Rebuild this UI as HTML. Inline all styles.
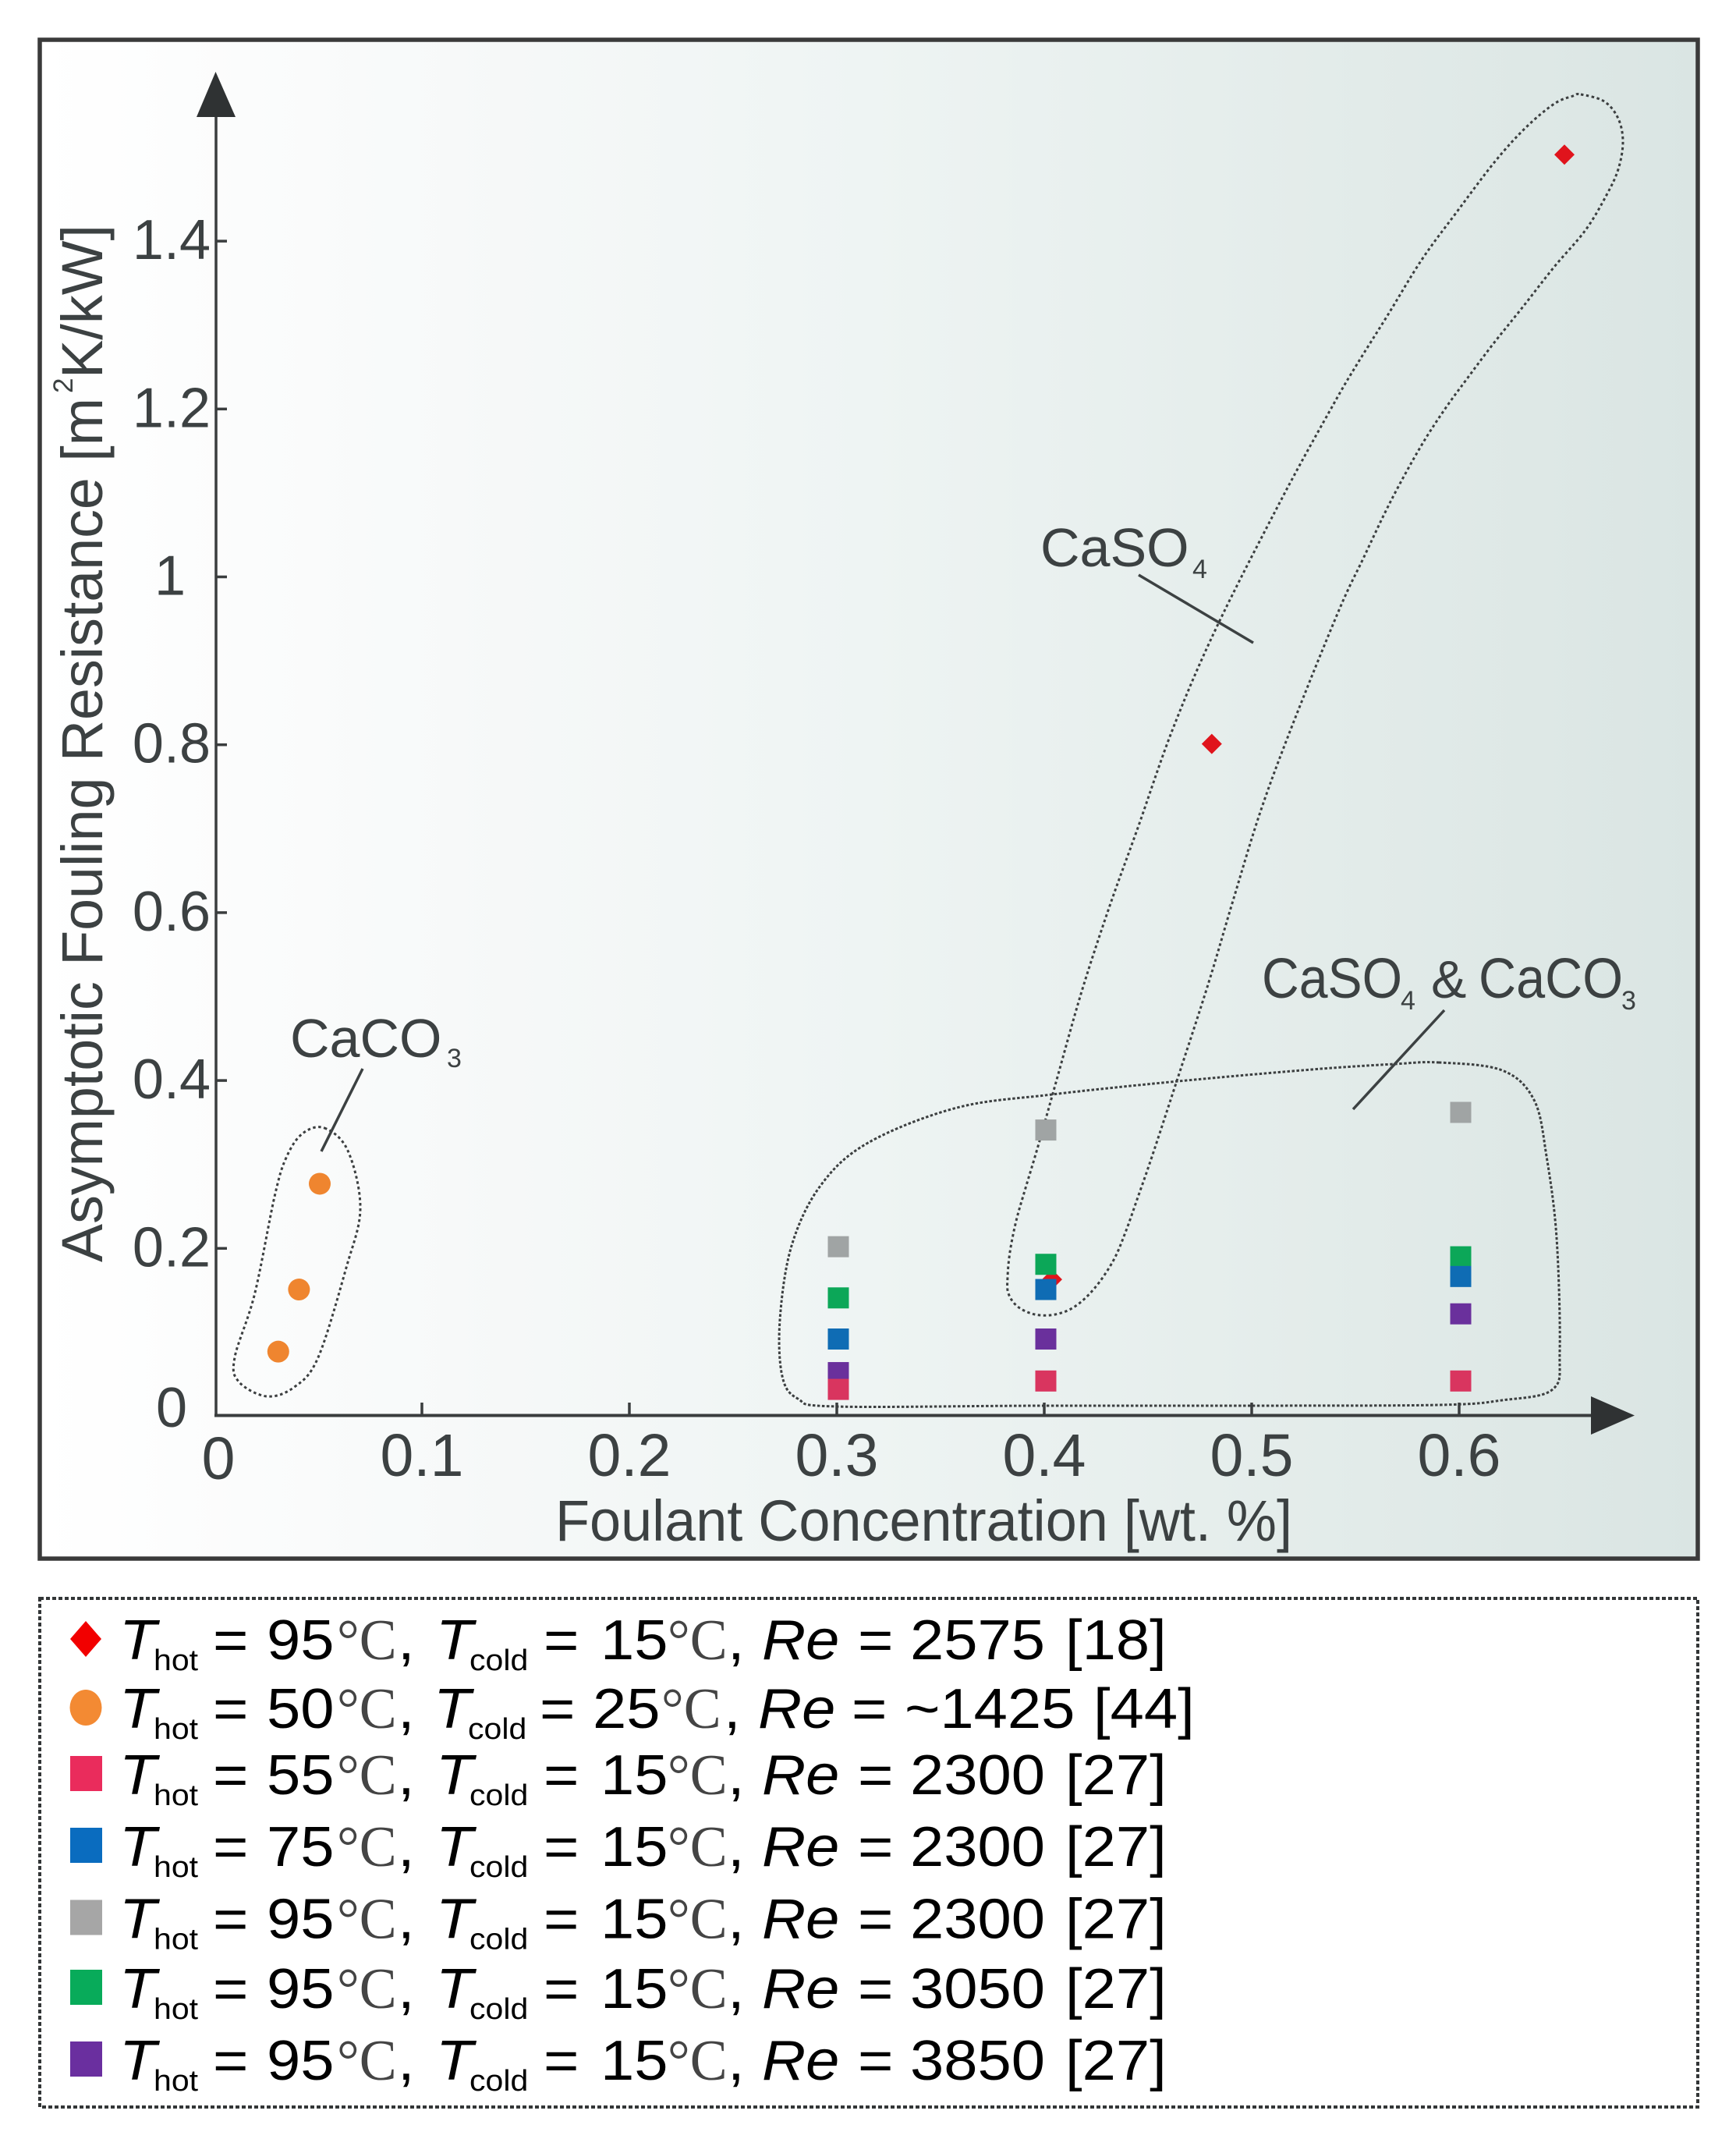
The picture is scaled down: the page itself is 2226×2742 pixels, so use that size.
<!DOCTYPE html>
<html>
<head>
<meta charset="utf-8">
<title>Asymptotic Fouling Resistance vs Foulant Concentration</title>
<style>
html,body{margin:0;padding:0;background:#fff;}
svg{display:block;}
text{font-family:"Liberation Sans",sans-serif;}
text.serif{font-family:"Liberation Serif",serif;}
</style>
</head>
<body>
<svg id="chart" xmlns="http://www.w3.org/2000/svg" width="2226" height="2742" viewBox="0 0 2226 2742">
  <defs>
    <linearGradient id="panelGrad" x1="0" y1="0" x2="1" y2="0">
      <stop offset="0" stop-color="#ffffff"/>
      <stop offset="0.25" stop-color="#f7f9f9"/>
      <stop offset="0.5" stop-color="#eef4f3"/>
      <stop offset="0.8" stop-color="#e2ebe9"/>
      <stop offset="1" stop-color="#dae5e3"/>
    </linearGradient>
  </defs>
  <rect width="2226" height="2742" fill="#ffffff"/>
  <rect x="51" y="51" width="2126" height="1947" fill="url(#panelGrad)" stroke="#3a3a3a" stroke-width="5.5"/>
  <g id="outlines"></g>
  <g id="axes"></g>
  <g id="marks"></g>

  <g fill="#3c4142">
    <text x="372" y="1355" font-size="70">CaCO</text>
    <text x="573" y="1368" font-size="34">3</text>
    <line x1="465" y1="1370" x2="412" y2="1476" stroke="#3c4142" stroke-width="3.5"/>
  </g>
  <g fill="#3c4142">
    <text x="1334" y="726" font-size="70">CaSO</text>
    <text x="1529" y="741" font-size="34">4</text>
    <line x1="1460" y1="737" x2="1607" y2="824" stroke="#3c4142" stroke-width="3.5"/>
  </g>
  <g fill="#3c4142">
    <text x="1618" y="1279" font-size="72" textLength="180" lengthAdjust="spacingAndGlyphs">CaSO</text>
    <text x="1796" y="1294" font-size="34">4</text>
    <text x="1835" y="1279" font-size="68">&amp;</text>
    <text x="1896" y="1279" font-size="72" textLength="185" lengthAdjust="spacingAndGlyphs">CaCO</text>
    <text x="2079" y="1294" font-size="34">3</text>
    <line x1="1852" y1="1295" x2="1735" y2="1422" stroke="#3c4142" stroke-width="3.5"/>
  </g>

  <text x="712" y="1975" font-size="74" fill="#3c4142" textLength="945" lengthAdjust="spacingAndGlyphs">Foulant Concentration [wt. %]</text>
  <text transform="translate(131,1618) rotate(-90)" font-size="74" fill="#3c4142" textLength="1108" lengthAdjust="spacingAndGlyphs">Asymptotic Fouling Resistance [m</text>
  <text transform="translate(93,504) rotate(-90)" font-size="35" fill="#3c4142">2</text>
  <text transform="translate(131,485) rotate(-90)" font-size="74" fill="#3c4142" textLength="197" lengthAdjust="spacingAndGlyphs">K/kW]</text>

  <rect x="51" y="2049" width="2126" height="652" fill="#ffffff" stroke="#333637" stroke-width="4" stroke-dasharray="5 3"/>
  <g id="legend"></g>
</svg>

<script>
// ---- chart data ----
const xTickValues = [0.1, 0.2, 0.3, 0.4, 0.5, 0.6];
const xTickLabels = ['0.1', '0.2', '0.3', '0.4', '0.5', '0.6'];
const yTickValues = [0.2, 0.4, 0.6, 0.8, 1, 1.2, 1.4];
const yTickLabels = ['0.2', '0.4', '0.6', '0.8', '1', '1.2', '1.4'];

const diamondX = [0.403, 0.48, 0.65];
const diamondY = [0.163, 0.801, 1.503];
const circleX = [0.03, 0.04, 0.05];
const circleY = [0.077, 0.151, 0.277];
const squareX = [0.3, 0.4, 0.6];
const grayY = [0.202, 0.341, 0.362];
const greenY = [0.141, 0.181, 0.19];
const blueY = [0.092, 0.151, 0.1665];
const purpleY = [0.052, 0.092, 0.122];
const crimsonY = [0.032, 0.042, 0.042];

const legendHot = ['95', '50', '55', '75', '95', '95', '95'];
const legendCold = ['15', '25', '15', '15', '15', '15', '15'];
const legendRe = ['2575', '~1425', '2300', '2300', '2300', '3050', '3850'];
const legendRef = ['[18]', '[44]', '[27]', '[27]', '[27]', '[27]', '[27]'];
const legendShapes = ['diamond', 'circle', 'square', 'square', 'square', 'square', 'square'];
const legendColors = ['#f20000', '#f38a33', '#ea2c5c', '#0a6cbf', '#a6a6a6', '#08ab5a', '#6a2f9f'];

// ---- scales ----
function xScale(v) { return 277 + 2660 * v; }
function yScale(v) { return 1815.5 - 1076 * v; }

const NS = 'http://www.w3.org/2000/svg';
function make(tag, parent, attrs) {
  const el = document.createElementNS(NS, tag);
  for (const k in attrs) el.setAttribute(k, attrs[k]);
  parent.appendChild(el);
  return el;
}

// ---- axes ----
const axes = document.getElementById('axes');
const AXIS = '#3a3d3e';
const yLine = make('line', axes, {x1: 277, y1: 1816, x2: 277, y2: 140, stroke: AXIS, 'stroke-width': 3.5});


const xLine = make('line', axes, {x1: 275, y1: 1814.5, x2: 2050, y2: 1814.5, stroke: AXIS, 'stroke-width': 4});


const yArrow = make('polygon', axes, {points: '276.5,92 252,150 302,150', fill: '#2f3233'});


const xArrow = make('polygon', axes, {points: '2096,1814.5 2040,1790 2040,1839', fill: '#2f3233'});



xTickValues.forEach(function (v, i) {
  const px = xScale(v) - 2;
  const tick = make('line', axes, {x1: px, y1: 1798, x2: px, y2: 1814, stroke: AXIS, 'stroke-width': 3.5});
  
  
  const label = make('text', axes, {x: px, y: 1892, 'font-size': 77, fill: '#3c4142', 'text-anchor': 'middle'});
  label.textContent = xTickLabels[i];
  
  
});
const xZero = make('text', axes, {x: 280, y: 1896, 'font-size': 77, fill: '#3c4142', 'text-anchor': 'middle'});
xZero.textContent = '0';



yTickValues.forEach(function (v, i) {
  const py = yScale(v);
  const tick = make('line', axes, {x1: 277, y1: py, x2: 291, y2: py, stroke: AXIS, 'stroke-width': 3.5});
  
  
  const txt = yTickLabels[i];
  const label = make('text', axes, {x: txt.length > 1 ? 270 : 238, y: py + 23, 'font-size': 72, fill: '#3c4142', 'text-anchor': 'end'});
  label.textContent = txt;
  
  
});
const yZero = make('text', axes, {x: 240, y: 1829, 'font-size': 72, fill: '#3c4142', 'text-anchor': 'end'});
yZero.textContent = '0';



// ---- hand-traced region outlines (closed smooth curves, annotation only) ----
function smoothClosed(p) {
  const n = p.length;
  let d = 'M' + p[0][0] + ' ' + p[0][1];
  for (let i = 0; i < n; i++) {
    const a = p[(i - 1 + n) % n], b = p[i], c = p[(i + 1) % n], e = p[(i + 2) % n];
    d += ' C' + (b[0] + (c[0] - a[0]) / 6).toFixed(1) + ' ' + (b[1] + (c[1] - a[1]) / 6).toFixed(1) +
         ' ' + (c[0] - (e[0] - b[0]) / 6).toFixed(1) + ' ' + (c[1] - (e[1] - b[1]) / 6).toFixed(1) +
         ' ' + c[0] + ' ' + c[1];
  }
  return d + 'Z';
}
const outlines = document.getElementById('outlines');
const OUTLINE_STYLE = {fill: 'none', stroke: '#3c3f40', 'stroke-width': 3, 'stroke-dasharray': '3.5 3.5'};

const outlineCaco3 = make('path', outlines, Object.assign({d: smoothClosed([
  [416,1446],[446,1475],[462,1549],[444,1625],[408,1740],[377.5,1778],[342,1790],[306,1771],[301,1740],[326.5,1659],[352,1534],[367,1484],[388,1453]
])}, OUTLINE_STYLE));



const outlineMixed = make('path', outlines, Object.assign({d: smoothClosed([
  [1845,1362],[1926,1372],[1967,1410],[1983,1482],[1996,1587],[2000,1731],[1991,1781],[1926,1795],[1845,1801],[1601,1802],[1330,1802],[1072,1803],[1023,1793],[1003,1764],[1000,1692],[1015,1597],[1052,1520],[1113,1465],[1227,1420],[1349,1403],[1511,1386],[1682,1371],[1788,1364]
])}, Object.assign({}, OUTLINE_STYLE, {'stroke-dasharray': '3.5 2.5'})));



const outlineCaso4 = make('path', outlines, Object.assign({d: smoothClosed([
  [2027,121],[2057,130],[2075,152],[2081,182],[2075,217],[2060,250],[2033,295],[1993,342],[1953,393],[1913,443],[1880,487],[1853,524],[1822,572],[1783,643],[1748,716],[1717,782],[1657,930],[1616,1041],[1580.6,1156],[1550,1259],[1509,1385.5],[1477,1483],[1460,1532],[1443,1580],[1427,1617],[1403,1652],[1378,1675],[1353,1685],[1327,1685],[1305,1675],[1293,1658],[1292,1637],[1295,1605],[1303,1565],[1315,1523],[1331.7,1467],[1353.6,1389],[1387,1271],[1422,1164],[1458,1064],[1504,934],[1560,804],[1645,636.5],[1710,518],[1740,467],[1780,403],[1823,333],[1867,273],[1917,207],[1957,163],[1993,133],[2017,123]
])}, OUTLINE_STYLE));



// ---- data marks ----
const marks = document.getElementById('marks');
diamondX.forEach(function (v, i) {
  const cx = xScale(v), cy = yScale(diamondY[i]);
  const m = make('polygon', marks, {points: (cx - 13) + ',' + cy + ' ' + cx + ',' + (cy - 13) + ' ' + (cx + 13) + ',' + cy + ' ' + cx + ',' + (cy + 13), fill: '#e0141c'});
  
  
});
circleX.forEach(function (v, i) {
  const m = make('circle', marks, {cx: xScale(v), cy: yScale(circleY[i]), r: 14, fill: '#ef852f'});
  
  
});
function drawSquares(values, color, name) {
  values.forEach(function (v, i) {
    const m = make('rect', marks, {x: xScale(squareX[i]) - 13.5, y: yScale(v) - 13.5, width: 27, height: 27, fill: color});
    
    
  });
}
drawSquares(grayY, '#a0a4a4', 'gray-square-point');
drawSquares(greenY, '#0ca758', 'green-square-point');
drawSquares(blueY, '#0f6cb4', 'blue-square-point');
drawSquares(purpleY, '#6a309c', 'purple-square-point');
drawSquares(crimsonY, '#d9355f', 'crimson-square-point');

// ---- legend ----
const legend = document.getElementById('legend');
const rowBaselines = [2127, 2215, 2300, 2392, 2484.5, 2574, 2666];
function stretched(parent, x, y, size, txt, extra, name) {
  const attrs = Object.assign({transform: 'translate(' + x + ',' + y + ') scale(1.08,1)', 'font-size': size, fill: '#000'}, extra || {});
  const t = make('text', parent, attrs);
  t.textContent = txt;
  
  
  return t;
}
function unit(parent, x, y, name) {
  const t = make('text', parent, {transform: 'translate(' + x + ',' + y + ') scale(0.97,1)', 'font-size': 74, fill: '#444', class: 'serif'});
  t.textContent = '°C';
  
  
  return t;
}
legendRe.forEach(function (re, i) {
  const y = rowBaselines[i];
  const alt = i === 1;
  const g = make('g', legend, {});
  
  
  const c = legendColors[i];
  const mid = y - 26;
  let sw;
  if (legendShapes[i] === 'diamond') {
    sw = make('polygon', g, {points: '90,' + mid + ' 110,' + (mid - 23) + ' 130,' + mid + ' 110,' + (mid + 23), fill: c});
  } else if (legendShapes[i] === 'circle') {
    sw = make('ellipse', g, {cx: 110, cy: mid, rx: 20.5, ry: 23, fill: c});
  } else {
    sw = make('rect', g, {x: 90, y: mid - 23, width: 41, height: 45, fill: c});
  }
  
  

  const it = {'font-style': 'italic'};
  stretched(g, 153, y, 72, 'T', it, 'legend-t-hot');
  stretched(g, 197, y + 14, 38, 'hot', null, 'legend-hot-subscript');
  stretched(g, 273, y, 72, '=', null, 'legend-equals');
  stretched(g, 342, y, 72, legendHot[i], null, 'legend-hot-value');
  unit(g, 432, y, 'legend-hot-unit');
  stretched(g, 510, y, 72, ',', null, 'legend-comma');
  stretched(g, alt ? 556 : 559, y, 72, 'T', it, 'legend-t-cold');
  stretched(g, alt ? 600 : 602, y + 14, 38, 'cold', null, 'legend-cold-subscript');
  stretched(g, alt ? 692 : 697, y, 72, '=', null, 'legend-equals');
  stretched(g, alt ? 760 : 770, y, 72, legendCold[i], null, 'legend-cold-value');
  unit(g, alt ? 848 : 856, y, 'legend-cold-unit');
  stretched(g, alt ? 928 : 933, y, 72, ',', null, 'legend-comma');
  stretched(g, alt ? 972 : 977, y, 72, 'Re', it, 'legend-re-symbol');
  stretched(g, alt ? 1092 : 1100, y, 72, '=', null, 'legend-equals');
  stretched(g, alt ? 1160 : 1167, y, 72, re, null, 'legend-re-value');
  stretched(g, alt ? 1402 : 1366, y, 72, legendRef[i], null, 'legend-reference');
});
</script>
</body>
</html>
